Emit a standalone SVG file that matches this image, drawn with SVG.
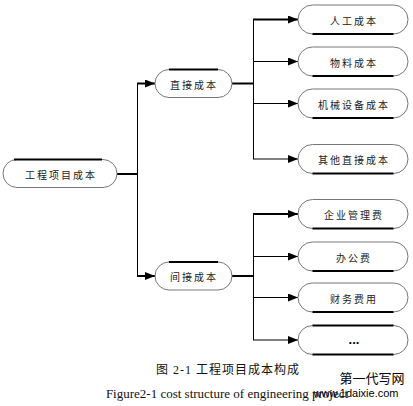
<svg xmlns="http://www.w3.org/2000/svg" width="413" height="406" viewBox="0 0 413 406">
<defs>
<marker id="ah" markerUnits="userSpaceOnUse" markerWidth="10" markerHeight="8" refX="10" refY="4" orient="auto"><path d="M0,0 L10,4 L0,8 Z" fill="#000"/></marker>
<style>
.box{fill:#fff;stroke:#777;stroke-width:1}
.bar{stroke:#000;stroke-width:2.2;fill:none}
.t{font-family:"Noto Sans CJK SC","Liberation Sans",sans-serif;font-size:10px;letter-spacing:2px;fill:#222;text-anchor:middle;dominant-baseline:central}
.thin{stroke:#000;stroke-width:1;fill:none}
.thick{stroke:#000;stroke-width:2;fill:none}
.cap{font-family:"Liberation Serif","Noto Sans CJK SC",serif;fill:#111;text-anchor:middle}
</style>
</defs>
<rect width="413" height="406" fill="#fff"/>
<g id="connectors">
<line class="thick" x1="117" y1="174" x2="137.5" y2="174"/>
<line class="thin" x1="137.5" y1="83.5" x2="137.5" y2="276"/>
<line class="thick" x1="137" y1="83.5" x2="155" y2="83.5" marker-end="url(#ah)"/>
<line class="thick" x1="137" y1="276" x2="155" y2="276" marker-end="url(#ah)"/>
<line class="thick" x1="232" y1="83.5" x2="253.5" y2="83.5"/>
<line class="thin" x1="253.5" y1="19.5" x2="253.5" y2="159"/>
<line class="thick" x1="253" y1="19.5" x2="298" y2="19.5" marker-end="url(#ah)"/>
<line class="thin" x1="253" y1="61.5" x2="298" y2="61.5" marker-end="url(#ah)"/>
<line class="thin" x1="253" y1="103.5" x2="298" y2="103.5" marker-end="url(#ah)"/>
<line class="thin" x1="253" y1="159" x2="298" y2="159" marker-end="url(#ah)"/>
<line class="thick" x1="232" y1="276" x2="253.5" y2="276"/>
<line class="thin" x1="253.5" y1="214" x2="253.5" y2="340"/>
<line class="thick" x1="253" y1="214" x2="298" y2="214" marker-end="url(#ah)"/>
<line class="thin" x1="253" y1="256.5" x2="298" y2="256.5" marker-end="url(#ah)"/>
<line class="thin" x1="253" y1="297.5" x2="298" y2="297.5" marker-end="url(#ah)"/>
<line class="thin" x1="253" y1="340" x2="298" y2="340" marker-end="url(#ah)"/>
</g>
<g id="root">
<rect class="box" x="3" y="159.5" width="114" height="28" rx="14"/>
<line class="bar" x1="14" y1="159.5" x2="102" y2="159.5"/>
<text class="t" x="61" y="174">工程项目成本</text>
</g>
<g id="direct">
<rect class="box" x="155" y="69.5" width="77" height="28" rx="14"/>
<line class="bar" x1="169" y1="69.5" x2="218" y2="69.5"/>
<text class="t" x="194" y="84">直接成本</text>
</g>
<g id="indirect">
<rect class="box" x="155" y="262" width="77" height="28" rx="14"/>
<line class="bar" x1="169" y1="262" x2="218" y2="262"/>
<text class="t" x="194" y="276.5">间接成本</text>
</g>
<g id="labor">
<rect class="box" x="298" y="5" width="110" height="29" rx="14.5"/>
<line class="bar" x1="312.5" y1="34" x2="393.5" y2="34"/>
<text class="t" x="354" y="20">人工成本</text>
</g>
<g id="material">
<rect class="box" x="298" y="47" width="110" height="29" rx="14.5"/>
<line class="bar" x1="312.5" y1="76" x2="393.5" y2="76"/>
<text class="t" x="354" y="62">物料成本</text>
</g>
<g id="machine">
<rect class="box" x="298" y="89" width="110" height="29" rx="14.5"/>
<line class="bar" x1="312.5" y1="118" x2="393.5" y2="118"/>
<text class="t" x="354" y="104">机械设备成本</text>
</g>
<g id="otherdirect">
<rect class="box" x="298" y="144.5" width="110" height="29" rx="14.5"/>
<line class="bar" x1="312.5" y1="173.5" x2="393.5" y2="173.5"/>
<text class="t" x="354" y="159.5">其他直接成本</text>
</g>
<g id="mgmt">
<rect class="box" x="298" y="199.5" width="110" height="29" rx="14.5"/>
<line class="bar" x1="312.5" y1="228.5" x2="393.5" y2="228.5"/>
<text class="t" x="354" y="214.5">企业管理费</text>
</g>
<g id="office">
<rect class="box" x="298" y="242" width="110" height="29" rx="14.5"/>
<line class="bar" x1="312.5" y1="271" x2="393.5" y2="271"/>
<text class="t" x="354" y="257">办公费</text>
</g>
<g id="finance">
<rect class="box" x="298" y="283" width="110" height="29" rx="14.5"/>
<line class="bar" x1="312.5" y1="312" x2="393.5" y2="312"/>
<text class="t" x="354" y="298">财务费用</text>
</g>
<g id="more">
<rect class="box" x="298" y="325.5" width="110" height="29" rx="14.5"/>
<line class="bar" x1="312.5" y1="325.5" x2="393.5" y2="325.5"/>
<line class="bar" x1="312.5" y1="354.5" x2="393.5" y2="354.5"/>
<text x="354" y="344" font-family="Liberation Sans, sans-serif" font-size="13" font-weight="bold" text-anchor="middle" fill="#000">...</text>
</g>
<text class="cap" x="228" y="374" font-size="12" letter-spacing="1">图 2-1  工程项目成本构成</text>
<text class="cap" x="227" y="398" font-size="13">Figure2-1 cost structure of engineering project</text>
<text x="372" y="383" font-family="Noto Sans CJK SC, sans-serif" font-size="13" text-anchor="middle" fill="#000">第一代写网</text>
<text x="356" y="397" font-family="Liberation Sans, sans-serif" font-size="11" text-anchor="middle" fill="#000">www.1daixie.com</text>
</svg>
